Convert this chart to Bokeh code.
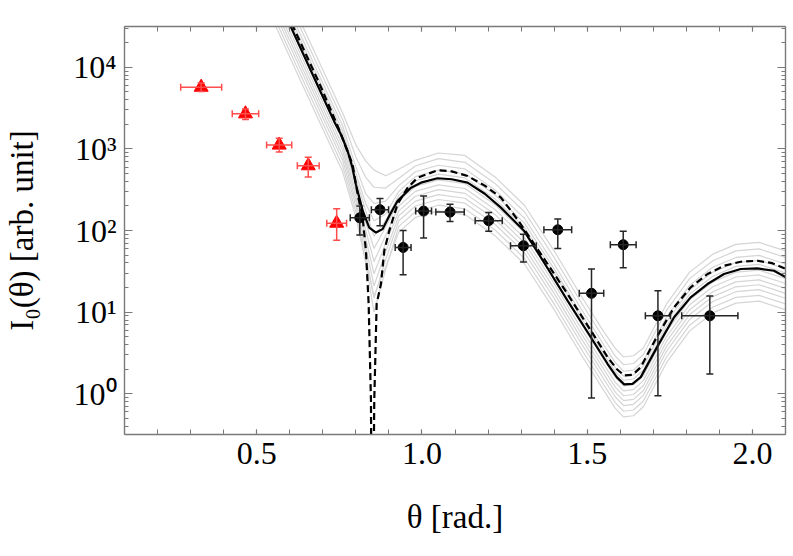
from bokeh.plotting import figure
from bokeh.models import (ColumnDataSource, Whisker, TeeHead, FixedTicker, LogAxis,
                          LinearAxis, Range1d, PrintfTickFormatter, CustomJSTickFormatter)
from bokeh.embed import file_html
from bokeh.resources import INLINE

# ---------------- data ----------------
# red triangles
red_theta = [0.332, 0.466, 0.568, 0.656, 0.742]
red_I = [5700, 2690, 1114, 622, 123]
red_I_lo = [5050, 2300, 914, 453, 76]
red_I_hi = [6430, 3090, 1346, 788, 185]
red_dtheta = [0.062, 0.040, 0.038, 0.033, 0.030]

# black circles
blk_theta = [0.812, 0.873, 0.943, 1.005, 1.085, 1.202, 1.307, 1.411, 1.513, 1.609, 1.714, 1.871]
blk_I = [143, 180, 62, 173, 168, 132, 65, 102, 17, 67, 9.0, 9.0]
blk_I_lo = [88, 114, 28.7, 81, 129, 98, 41, 60, 0.885, 35, 0.946, 1.74]
blk_I_hi = [200, 246, 100, 265, 210, 166, 90, 138, 33.7, 98, 18.3, 15.8]
blk_dtheta = [0.029, 0.026, 0.024, 0.024, 0.043, 0.041, 0.039, 0.042, 0.037, 0.039, 0.038, 0.085]

# solid black curve (log10 of intensity)
solid_theta = [0.55, 0.604, 0.688, 0.734, 0.757, 0.775, 0.789, 0.800, 0.821, 0.8405, 0.861,
               0.881, 0.901, 0.926, 0.967, 0.997, 1.047, 1.09, 1.138, 1.19, 1.239, 1.309,
               1.340, 1.3905, 1.4405, 1.511, 1.5615, 1.59, 1.612, 1.637, 1.662, 1.7126,
               1.763, 1.813, 1.864, 1.914, 1.9645, 2.015, 2.065, 2.10]
solid_log = [4.97, 4.489, 3.747, 3.340, 3.16, 2.974, 2.78, 2.567, 2.240, 2.036, 1.975,
             2.017, 2.179, 2.362, 2.525, 2.586, 2.640, 2.628, 2.586, 2.45, 2.28, 1.996,
             1.80, 1.47, 1.14, 0.692, 0.367, 0.20, 0.114, 0.12, 0.203, 0.58,
             0.936, 1.181, 1.344, 1.467, 1.528, 1.535, 1.507, 1.43]

# dashed black curve (log10 of intensity)
dash_theta = [0.55, 0.61, 0.69, 0.745, 0.790, 0.8055, 0.8206, 0.8306, 0.8357, 0.8387, 0.8457,
              0.8495, 0.8557, 0.863, 0.876, 0.886, 0.901, 0.926, 0.957, 0.987, 1.047, 1.09,
              1.138, 1.19, 1.239, 1.29, 1.3395, 1.39, 1.4405, 1.511, 1.5615, 1.59, 1.612,
              1.637, 1.662, 1.7126, 1.763, 1.813, 1.864, 1.914, 1.9645, 2.015, 2.06, 2.10]
dash_log = [5.02, 4.50, 3.80, 3.28, 2.811, 2.444, 2.158, 1.751, 1.344, 1.104, -0.082,
            -3.0, -0.082, 1.104, 1.344, 1.751, 1.996, 2.322, 2.525, 2.647, 2.738, 2.725,
            2.668, 2.55, 2.403, 2.13, 1.833, 1.53, 1.222, 0.774, 0.448, 0.30, 0.224,
            0.23, 0.325, 0.71, 1.059, 1.303, 1.467, 1.568, 1.617, 1.629, 1.60, 1.53]

# grey ensemble curves (log10 of intensity) on a shared theta grid
gray_theta = [0.55, 0.62, 0.70, 0.76, 0.80, 0.83, 0.855, 0.89, 0.93, 0.98, 1.05, 1.13, 1.22,
              1.31, 1.40, 1.48, 1.55, 1.585, 1.61, 1.64, 1.67, 1.74, 1.81, 1.88, 1.95,
              2.02, 2.10]
gray_1 = [5.29, 4.67, 3.97, 3.44, 3.05, 2.85, 2.74, 2.67, 2.75, 2.86, 2.95, 2.92, 2.66,
          2.31, 1.75, 1.21, 0.76, 0.555, 0.45, 0.465, 0.56, 1.10, 1.49, 1.71, 1.83, 1.855, 1.75]
gray_2 = [5.21, 4.59, 3.885, 3.36, 2.90, 2.65, 2.53, 2.52, 2.64, 2.79, 2.88, 2.835, 2.58,
          2.23, 1.67, 1.13, 0.68, 0.46, 0.355, 0.37, 0.48, 1.02, 1.41, 1.63, 1.75, 1.775, 1.67]
gray_3 = [5.13, 4.51, 3.805, 3.28, 2.78, 2.45, 2.33, 2.36, 2.55, 2.72, 2.80, 2.755, 2.50,
          2.15, 1.59, 1.05, 0.60, 0.38, 0.275, 0.29, 0.40, 0.94, 1.33, 1.55, 1.67, 1.695, 1.59]
gray_4 = [5.07, 4.45, 3.745, 3.22, 2.70, 2.33, 2.12, 2.20, 2.48, 2.66, 2.74, 2.695, 2.44,
          2.09, 1.53, 0.99, 0.54, 0.32, 0.215, 0.23, 0.34, 0.88, 1.27, 1.49, 1.61, 1.635, 1.53]
gray_5 = [5.02, 4.40, 3.695, 3.17, 2.64, 2.24, 1.93, 2.12, 2.43, 2.61, 2.69, 2.645, 2.39,
          2.04, 1.48, 0.94, 0.49, 0.27, 0.165, 0.18, 0.29, 0.83, 1.22, 1.44, 1.56, 1.585, 1.48]
gray_6 = [4.95, 4.33, 3.625, 3.10, 2.55, 2.10, 1.78, 2.04, 2.36, 2.54, 2.62, 2.575, 2.32,
          1.97, 1.41, 0.87, 0.42, 0.20, 0.095, 0.11, 0.22, 0.76, 1.15, 1.37, 1.49, 1.515, 1.41]
gray_7 = [4.89, 4.27, 3.565, 3.04, 2.48, 2.00, 1.62, 1.94, 2.30, 2.48, 2.56, 2.515, 2.26,
          1.91, 1.35, 0.81, 0.36, 0.14, 0.035, 0.05, 0.16, 0.70, 1.09, 1.31, 1.43, 1.455, 1.35]
gray_8 = [4.83, 4.21, 3.505, 2.98, 2.42, 1.90, 1.47, 1.84, 2.24, 2.42, 2.50, 2.455, 2.20,
          1.85, 1.29, 0.75, 0.30, 0.08, -0.025, -0.01, 0.10, 0.64, 1.03, 1.25, 1.37, 1.395, 1.29]
gray_9 = [4.77, 4.15, 3.445, 2.92, 2.36, 1.80, 1.32, 1.74, 2.18, 2.36, 2.44, 2.395, 2.14,
          1.79, 1.23, 0.69, 0.24, 0.02, -0.085, -0.07, 0.04, 0.58, 0.97, 1.19, 1.31, 1.335, 1.23]
gray_10 = [4.71, 4.09, 3.385, 2.86, 2.30, 1.70, 1.17, 1.64, 2.12, 2.30, 2.38, 2.335, 2.08,
           1.73, 1.17, 0.63, 0.18, -0.04, -0.145, -0.13, -0.02, 0.52, 0.91, 1.13, 1.25, 1.275,
           1.17]
gray_11 = [4.64, 4.02, 3.315, 2.79, 2.23, 1.60, 1.00, 1.52, 2.05, 2.23, 2.31, 2.265, 2.01,
           1.66, 1.10, 0.56, 0.11, -0.11, -0.215, -0.20, -0.09, 0.45, 0.84, 1.06, 1.18, 1.205,
           1.10]
gray_12 = [4.57, 3.95, 3.245, 2.72, 2.16, 1.62, 1.20, 1.55, 1.98, 2.16, 2.24, 2.195, 1.94,
           1.59, 1.03, 0.49, 0.04, -0.18, -0.285, -0.27, -0.16, 0.38, 0.77, 0.99, 1.11, 1.135,
           1.03]
gray_curves = [gray_1, gray_2, gray_3, gray_4, gray_5, gray_6, gray_7, gray_8, gray_9,
               gray_10, gray_11, gray_12]

x_major = [0.5, 1.0, 1.5, 2.0]
y_major = [1, 10, 100, 1000, 10000]

# ---------------- figure ----------------
FONT = "Liberation Serif"
AX = "#7a7a7a"

p = figure(frame_width=661, frame_height=408, y_axis_type="log",
           x_range=Range1d(0.1, 2.1), y_range=Range1d(10 ** -0.5, 10 ** 4.5),
           output_backend="svg", toolbar_location=None,
           min_border_left=124, min_border_right=4, min_border_top=26, min_border_bottom=110)
p.xgrid.visible = False
p.ygrid.visible = False
p.outline_line_color = None
p.background_fill_color = "white"
p.border_fill_color = "white"

def to_lin(vals):
    return [10 ** v for v in vals]

for g in gray_curves:
    p.line(gray_theta, to_lin(g), line_color="#d5d5d5", line_width=1.2)
p.line(solid_theta, to_lin(solid_log), line_color="black", line_width=2.2)
p.line(dash_theta, to_lin(dash_log), line_color="black", line_width=2.2, line_dash="7 4")

def add_errors(theta, I, lo, hi, dth, col, width):
    src = ColumnDataSource(dict(x=theta, y=I, ylo=lo, yhi=hi,
                                xlo=[t - d for t, d in zip(theta, dth)],
                                xhi=[t + d for t, d in zip(theta, dth)]))
    for base, lower, upper, dim in (("x", "ylo", "yhi", "height"), ("y", "xlo", "xhi", "width")):
        w = Whisker(source=src, base=base, lower=lower, upper=upper, dimension=dim,
                    line_color=col, line_width=width, level="glyph",
                    upper_head=TeeHead(size=7, line_color=col, line_width=width),
                    lower_head=TeeHead(size=7, line_color=col, line_width=width))
        p.add_layout(w)
    return src

rs = add_errors(red_theta, red_I, red_I_lo, red_I_hi, red_dtheta, "#ff4d4d", 1.5)
bs = add_errors(blk_theta, blk_I, blk_I_lo, blk_I_hi, blk_dtheta, "#262626", 1.5)
p.scatter("x", "y", source=rs, marker="triangle", size=14, color="red")
p.scatter("x", "y", source=bs, marker="circle", size=10, color="black")

xt = FixedTicker(ticks=x_major, minor_ticks=[round(0.1 * i, 1) for i in range(1, 22)])
yt = FixedTicker(ticks=y_major,
                 minor_ticks=[m * 10 ** k for k in range(-1, 5) for m in range(2, 10)])
sup_fmt = CustomJSTickFormatter(code="""
const s = {0:'\u2070',1:'\u00b9',2:'\u00b2',3:'\u00b3',4:'\u2074'};
return '10' + s[Math.round(Math.log10(tick))];""")
blank = CustomJSTickFormatter(code="return '';")

def style(ax, major_in, minor_in):
    ax.axis_line_color = AX
    ax.axis_line_width = 1.4
    ax.major_tick_line_color = AX
    ax.minor_tick_line_color = AX
    ax.major_tick_line_width = 1.2
    ax.minor_tick_line_width = 1.0
    ax.major_tick_in = major_in
    ax.major_tick_out = 0
    ax.minor_tick_in = minor_in
    ax.minor_tick_out = 0
    ax.major_label_text_font = FONT
    ax.major_label_text_font_size = "32px"
    ax.major_label_text_color = "black"
    ax.axis_label_text_font = FONT
    ax.axis_label_text_font_size = "33px"
    ax.axis_label_text_font_style = "normal"
    ax.axis_label_text_color = "black"

xa = p.xaxis[0]
xa.ticker = xt
xa.formatter = PrintfTickFormatter(format="%.1f")
style(xa, 5, 5)
xa.major_label_standoff = 8
xa.axis_label = "θ [rad.]"
xa.axis_label_standoff = 32

ya = p.yaxis[0]
ya.ticker = yt
ya.formatter = sup_fmt
style(ya, 8, 4)
ya.major_label_standoff = 8
ya.axis_label = "I\u2080(θ) [arb. unit]"
ya.axis_label_standoff = 30

ta = LinearAxis(ticker=xt, formatter=blank)
style(ta, 5, 5)
ta.major_label_standoff = 0
ta.major_label_text_font_size = "1px"
p.add_layout(ta, "above")

ra = LogAxis(ticker=yt, formatter=blank)
style(ra, 8, 4)
ra.major_label_standoff = 0
ra.major_label_text_font_size = "1px"
p.add_layout(ra, "right")

open("out.html", "w").write(file_html(p, INLINE))
